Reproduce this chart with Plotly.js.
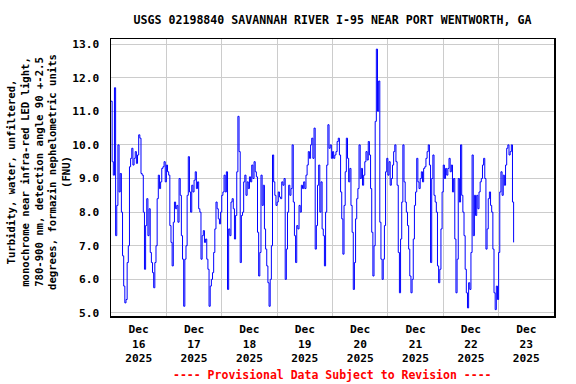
<!DOCTYPE html>
<html>
<head>
<meta charset="utf-8">
<script src="https://cdn.plot.ly/plotly-3.0.1.min.js"></script>
<style>html,body{margin:0;padding:0;background:#fff;}#chart{width:576px;height:384px;}</style>
</head>
<body>
<div id="chart"></div>
<script>
// Series start and sampling interval (30-minute readings)
const startTime = "2025-12-16T00:00:00";
const stepMinutes = 30;

// Turbidity values (FNU)
const turbidity = [
11.3,9.5,9.1,11.7,7.3,8.2,10.0,8.6,9.15,8.0,6.7,5.8,5.3,5.4,6.5,7.0,9.35,9.6,9.9,9.4,
9.6,9.8,9.45,9.7,10.3,10.2,9.15,9.1,8.0,6.3,7.6,8.4,7.3,8.1,6.8,6.5,6.2,5.75,6.5,7.0,
8.4,9.1,8.7,8.9,9.3,9.35,9.5,8.9,9.4,9.2,9.1,7.6,7.1,6.4,7.7,8.3,8.1,8.2,7.7,9.0,
8.5,7.3,6.6,5.2,6.6,7.0,8.5,9.65,8.6,
8.0,8.8,8.6,8.95,9.2,8.7,8.9,8.1,8.0,6.6,7.3,7.45,7.1,7.2,6.6,6.3,5.2,5.8,6.0,6.2,
6.8,7.5,8.3,8.1,7.8,7.65,8.0,8.5,8.6,9.1,8.6,9.2,5.7,7.5,7.3,8.3,8.4,8.1,7.2,7.9,
9.2,10.85,9.8,6.5,7.9,8.0,8.9,9.1,8.5,8.9,8.7,9.05,8.9,9.4,9.0,9.5,9.2,9.05,7.4,6.1,
6.8,9.1,8.2,8.8,7.5,6.9,6.4,5.9,5.2,
6.0,7.0,9.7,8.9,8.5,8.2,8.3,8.6,8.45,8.4,8.9,8.8,9.0,6.0,6.9,8.0,8.8,8.5,8.7,10.0,
8.3,7.3,6.5,7.6,7.5,8.2,8.0,8.8,8.7,8.9,8.7,9.1,9.4,9.8,9.6,10.0,10.2,9.6,10.5,6.9,
7.6,8.8,9.4,8.0,8.9,7.5,7.3,6.4,8.0,9.4,10.6,9.9,10.0,9.6,9.8,9.6,9.7,9.8,10.1,10.2,
9.7,8.6,7.8,6.75,8.2,9.2,10.2,9.6,8.9,9.3,
8.2,7.4,5.7,6.5,7.8,8.4,8.7,10.0,9.0,9.3,8.8,9.1,9.5,9.8,9.55,10.1,9.7,8.7,7.4,6.1,
7.0,10.7,12.85,11.0,11.9,7.7,6.6,6.0,6.6,7.6,9.2,9.6,9.1,9.5,8.8,9.0,9.4,9.8,10.0,9.5,
8.8,6.8,5.6,7.2,8.3,10.0,8.9,8.3,8.0,7.6,6.9,6.1,5.6,6.0,7.2,8.2,8.6,9.6,8.9,8.7,
9.0,9.2,8.9,9.3,9.35,9.6,9.8,10.0,9.4,
6.5,9.0,9.7,8.5,8.3,8.0,6.4,5.9,6.3,7.5,8.6,9.4,9.0,9.3,9.1,9.3,9.6,9.2,9.4,8.6,
9.0,7.2,5.6,6.6,9.0,8.3,10.0,8.5,8.0,7.3,6.3,5.6,5.15,5.9,5.7,6.8,9.7,7.3,8.5,7.9,
8.5,8.1,8.6,8.9,9.0,9.4,9.6,9.0,6.9,7.5,8.4,8.6,8.2,8.0,6.9,5.6,5.1,5.8,5.4,6.8,
8.6,9.2,8.5,9.1,8.8,9.4,9.9,10.0,9.7,9.8,10.0,8.3,7.1
];

// Text
const chartTitle = "USGS 02198840 SAVANNAH RIVER I-95 NEAR PORT WENTWORTH, GA";
const yTitleLines = [
  "Turbidity, water, unfiltered,",
  "monochrome near infra-red LED light,",
  "780-900 nm, detection angle 90 +-2.5",
  "degrees, formazin nephelometric units",
  "(FNU)"
];
const footnote = "---- Provisional Data Subject to Revision ----";
const xRange = ["2025-12-16 00:00", "2025-12-24 00:00"];

function pad(n){return (n<10?"0":"")+n;}
const t0 = new Date(startTime + "Z").getTime();
const times = turbidity.map((_, i) => {
  const d = new Date(t0 + i*stepMinutes*60000);
  return d.getUTCFullYear()+"-"+pad(d.getUTCMonth()+1)+"-"+pad(d.getUTCDate())+" "+pad(d.getUTCHours())+":"+pad(d.getUTCMinutes());
});

const FONT = "DejaVu Sans Mono, Liberation Mono, monospace";

const trace = {
  x: times, y: turbidity, type: "scatter", mode: "lines",
  line: {color: "#0000ff", width: 1, shape: "hv"}, hoverinfo: "skip"
};

const layout = {
  width: 576, height: 384,
  margin: {l: 111, r: 22, t: 39, b: 68},
  paper_bgcolor: "#ffffff", plot_bgcolor: "#ffffff",
  showlegend: false,
  title: {
    text: chartTitle, x: 0.5, xref: "paper", xanchor: "center",
    y: 1 - 19.5/384, yref: "container", yanchor: "middle",
    font: {family: FONT, size: 11.6, color: "#000", weight: "bold"}
  },
  xaxis: {
    type: "date", range: xRange,
    tickmode: "linear", tick0: "2025-12-16", dtick: 86400000,
    ticklabelmode: "period", tickformat: "%b<br>%d<br>%Y",
    showgrid: true, gridcolor: "#cccccc", gridwidth: 1,
    showline: true, mirror: true, linecolor: "#000", linewidth: 1.5,
    ticks: "", zeroline: false, ticklabelstandoff: 2,
    tickfont: {family: FONT, size: 11.2, color: "#000", weight: "bold"}
  },
  yaxis: {
    range: [4.91, 13.15], tickmode: "linear", tick0: 5, dtick: 1, tickformat: ".1f",
    showgrid: true, gridcolor: "#cccccc", gridwidth: 1,
    showline: true, mirror: true, linecolor: "#000", linewidth: 1.5,
    ticks: "", zeroline: false, ticklabelstandoff: 8,
    tickfont: {family: FONT, size: 11.2, color: "#000", weight: "bold"}
  },
  annotations: [
    {
      text: yTitleLines.join("<br>"), textangle: -90,
      xref: "paper", yref: "paper", x: (38-111)/443, y: (316-172)/277,
      xanchor: "center", yanchor: "middle", showarrow: false,
      font: {family: FONT, size: 10.6, color: "#000", weight: "bold"}
    },
    {
      text: footnote, xref: "paper", yref: "paper",
      x: 0.5, y: (316-375)/277, xanchor: "center", yanchor: "middle", showarrow: false,
      font: {family: FONT, size: 11.5, color: "#ff0000", weight: "bold"}
    }
  ]
};

Plotly.newPlot("chart", [trace], layout, {staticPlot: true, displayModeBar: false});
</script>
</body>
</html>
